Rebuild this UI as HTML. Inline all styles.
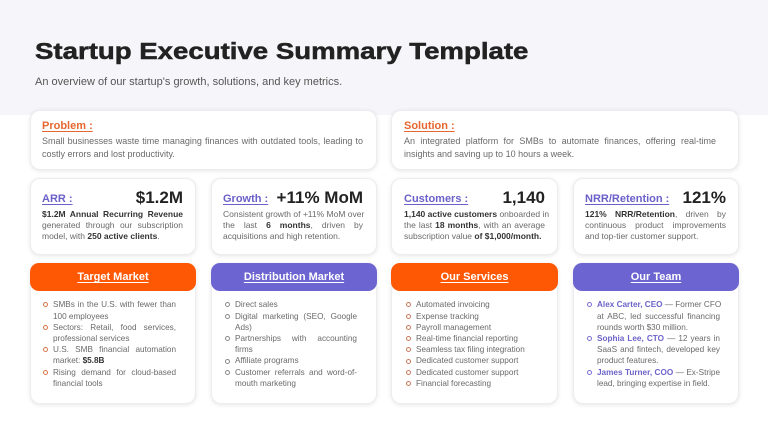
<!DOCTYPE html>
<html><head><meta charset="utf-8">
<style>
*{margin:0;padding:0;box-sizing:border-box}
html,body{width:768px;height:432px;overflow:hidden;background:#fff;font-family:"Liberation Sans",Arial,sans-serif}
.band{position:absolute;left:0;top:0;width:768px;height:115px;background:#f6f6fa}
.abs{position:absolute}
.card{position:absolute;background:#fff;border:1px solid #ececf1;border-radius:10px;box-shadow:0 1px 5px rgba(0,0,0,0.10)}
.hdr{position:absolute;height:28px;border-radius:9px;color:#fff;font-weight:bold;font-size:11px;line-height:28px;text-align:center}
.hdr span{text-decoration:underline;text-underline-offset:2px}
.or{background:#fe5805}
.pu{background:#6c64d1}
.lab{position:absolute;font-weight:bold;font-size:11px;line-height:14px;text-decoration:underline;text-underline-offset:2px;white-space:nowrap}
.lo{color:#e6672f}
.lp{color:#6b60c9}
.val{position:absolute;font-weight:bold;font-size:17px;line-height:20px;color:#222;text-align:right;white-space:nowrap}
.txt{position:absolute;color:#6a6a6a;white-space:nowrap}
.txt div{white-space:nowrap}
.p9{font-size:9px;line-height:12.3px}
.p85{font-size:8.5px;line-height:11px}
.lst{font-size:8.2px;line-height:11.2px}
.j{text-align:justify;text-align-last:justify}
b{color:#333}
.txt .it{position:relative}
.bul{position:absolute;left:-10.5px;top:3.1px;width:5px;height:5px;border-radius:50%;border:1px solid #d9754a}
.bg .bul{border-color:#8a8a8a}
.bs .bul{border-color:#c9795a}
.bt .bul{border-color:#7a70d4}
.nm{color:#6c63c9;font-weight:bold}
</style></head><body>
<div class="band"></div>

<div class="abs" style="left:35px;top:39.5px;font-size:23px;line-height:23px;font-weight:bold;color:#222;white-space:nowrap;transform:scaleX(1.2);transform-origin:0 0;-webkit-text-stroke:0.5px #222">Startup Executive Summary Template</div>
<div class="abs" style="left:35px;top:74.5px;font-size:11px;line-height:14px;color:#555;white-space:nowrap">An overview of our startup's growth, solutions, and key metrics.</div>

<!-- Problem / Solution -->
<div class="card" style="left:30px;top:110px;width:347px;height:60px"></div>
<div class="card" style="left:391px;top:110px;width:348px;height:60px"></div>
<div class="lab lo" style="left:42px;top:118.7px">Problem :</div>
<div class="lab lo" style="left:404px;top:118.7px">Solution :</div>
<div class="txt p9" style="left:42px;top:135.3px;width:321px">
<div class="j">Small businesses waste time managing finances with outdated tools, leading to</div>
<div>costly errors and lost productivity.</div>
</div>
<div class="txt p9" style="left:404px;top:135.3px;width:312px">
<div class="j">An integrated platform for SMBs to automate finances, offering real-time</div>
<div>insights and saving up to 10 hours a week.</div>
</div>

<!-- Metric cards -->
<div class="card" style="left:30px;top:178px;width:166px;height:77px"></div>
<div class="card" style="left:211px;top:178px;width:166px;height:77px"></div>
<div class="card" style="left:391px;top:178px;width:167px;height:77px"></div>
<div class="card" style="left:573px;top:178px;width:166px;height:77px"></div>

<div class="lab lp" style="left:42px;top:192px">ARR :</div>
<div class="val" style="left:100px;width:83px;top:187.5px">$1.2M</div>
<div class="txt p85" style="left:42px;top:209.2px;width:141px">
<div class="j"><b>$1.2M Annual Recurring Revenue</b></div>
<div class="j">generated through our subscription</div>
<div>model, with <b>250 active clients</b>.</div>
</div>

<div class="lab lp" style="left:223px;top:192px">Growth :</div>
<div class="val" style="left:270px;width:93px;top:187.5px">+11% MoM</div>
<div class="txt p85" style="left:223px;top:209.2px;width:140px">
<div class="j">Consistent growth of +11% MoM over</div>
<div class="j">the last <b>6 months</b>, driven by</div>
<div>acquisitions and high retention.</div>
</div>

<div class="lab lp" style="left:404px;top:192px">Customers :</div>
<div class="val" style="left:480px;width:65px;top:187.5px">1,140</div>
<div class="txt p85" style="left:404px;top:209.2px;width:141px">
<div class="j"><b>1,140 active customers</b> onboarded in</div>
<div class="j">the last <b>18 months</b>, with an average</div>
<div>subscription value <b>of $1,000/month.</b></div>
</div>

<div class="lab lp" style="left:585px;top:192px">NRR/Retention :</div>
<div class="val" style="left:680px;width:46px;top:187.5px">121%</div>
<div class="txt p85" style="left:585px;top:209.2px;width:141px">
<div class="j"><b>121% NRR/Retention</b>, driven by</div>
<div class="j">continuous product improvements</div>
<div>and top-tier customer support.</div>
</div>

<!-- Bottom cards -->
<div class="card" style="left:30px;top:263px;width:166px;height:141px"></div>
<div class="card" style="left:211px;top:263px;width:166px;height:141px"></div>
<div class="card" style="left:391px;top:263px;width:167px;height:141px"></div>
<div class="card" style="left:573px;top:263px;width:166px;height:141px"></div>

<div class="hdr or" style="left:30px;top:263px;width:166px"><span>Target Market</span></div>
<div class="hdr pu" style="left:211px;top:263px;width:166px"><span>Distribution Market</span></div>
<div class="hdr or" style="left:391px;top:263px;width:167px"><span>Our Services</span></div>
<div class="hdr pu" style="left:573px;top:263px;width:166px"><span>Our Team</span></div>

<div class="txt lst bm" style="left:53px;top:299.4px;width:123px">
<div class="it j"><span class="bul"></span>SMBs in the U.S. with fewer than</div>
<div>100 employees</div>
<div class="it j"><span class="bul"></span>Sectors: Retail, food services,</div>
<div>professional services</div>
<div class="it j"><span class="bul"></span>U.S. SMB financial automation</div>
<div>market: <b>$5.8B</b></div>
<div class="it j"><span class="bul"></span>Rising demand for cloud-based</div>
<div>financial tools</div>
</div>

<div class="txt lst bg" style="left:235px;top:299.4px;width:122px">
<div class="it"><span class="bul"></span>Direct sales</div>
<div class="it j"><span class="bul"></span>Digital marketing (SEO, Google</div>
<div>Ads)</div>
<div class="it j"><span class="bul"></span>Partnerships with accounting</div>
<div>firms</div>
<div class="it"><span class="bul"></span>Affiliate programs</div>
<div class="it j"><span class="bul"></span>Customer referrals and word-of-</div>
<div>mouth marketing</div>
</div>

<div class="txt lst bs" style="left:416px;top:299.4px;width:130px">
<div class="it"><span class="bul"></span>Automated invoicing</div>
<div class="it"><span class="bul"></span>Expense tracking</div>
<div class="it"><span class="bul"></span>Payroll management</div>
<div class="it"><span class="bul"></span>Real-time financial reporting</div>
<div class="it"><span class="bul"></span>Seamless tax filing integration</div>
<div class="it"><span class="bul"></span>Dedicated customer support</div>
<div class="it"><span class="bul"></span>Dedicated customer support</div>
<div class="it"><span class="bul"></span>Financial forecasting</div>
</div>

<div class="txt lst bt" style="left:597px;top:299.4px;width:123px">
<div class="it j"><span class="bul"></span><span class="nm">Alex Carter, CEO</span> — Former CFO</div>
<div class="j">at ABC, led successful financing</div>
<div>rounds worth $30 million.</div>
<div class="it j"><span class="bul"></span><span class="nm">Sophia Lee, CTO</span> — 12 years in</div>
<div class="j">SaaS and fintech, developed key</div>
<div>product features.</div>
<div class="it j"><span class="bul"></span><span class="nm">James Turner, COO</span> — Ex-Stripe</div>
<div>lead, bringing expertise in field.</div>
</div>

</body></html>
